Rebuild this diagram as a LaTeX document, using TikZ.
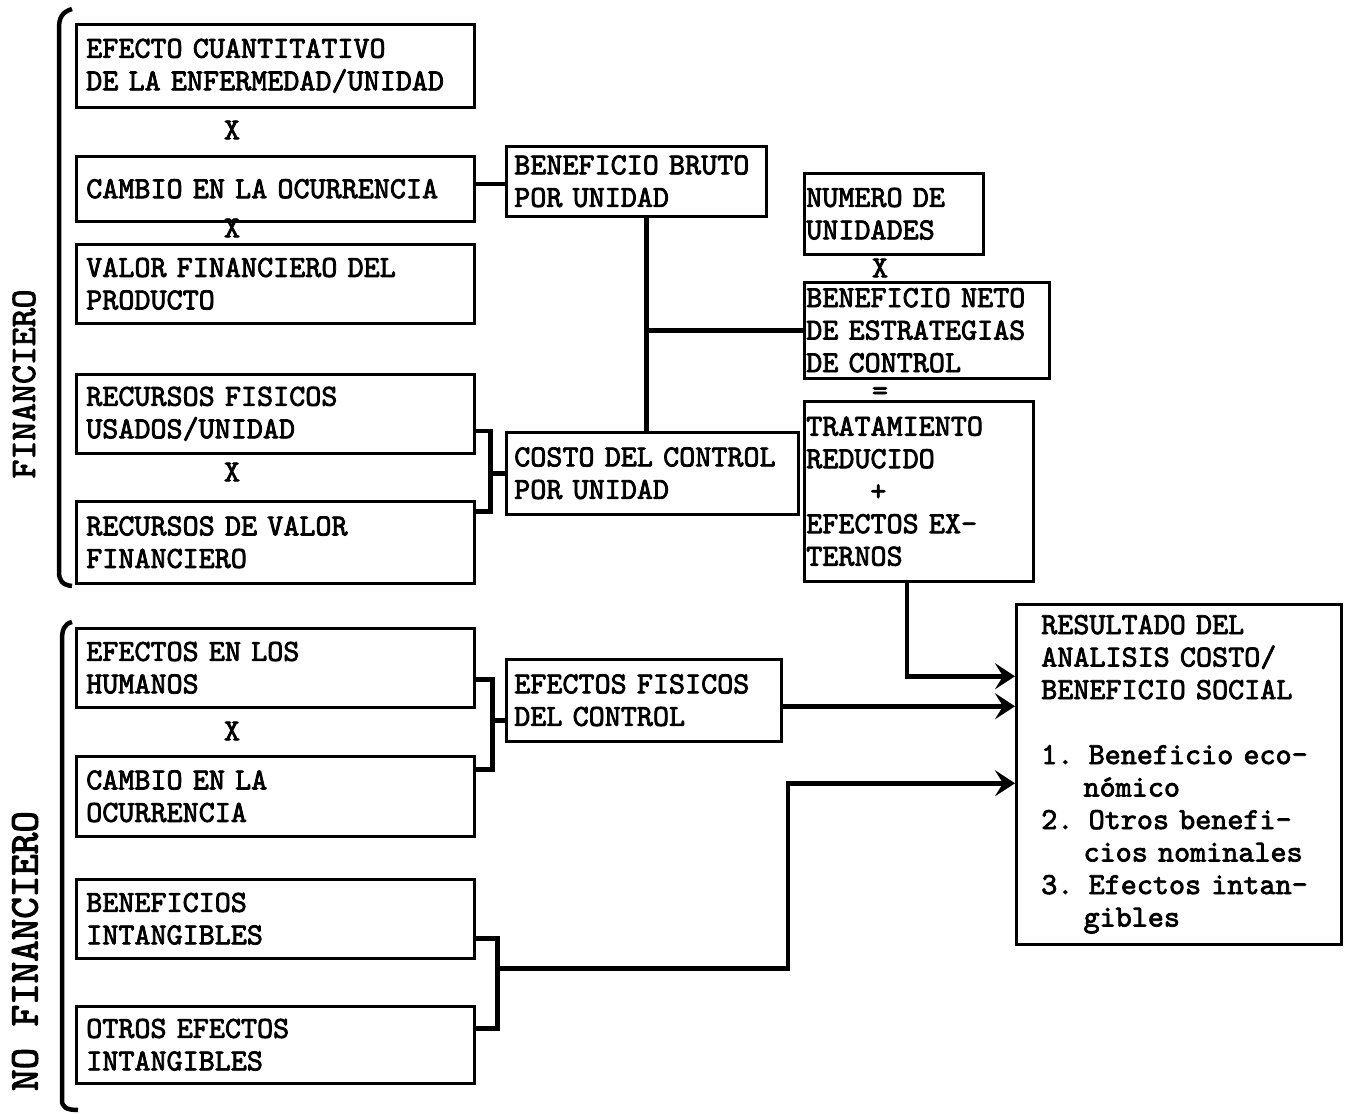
\documentclass[tikz,border=0pt]{standalone}
\usepackage{fontspec}
\newfontfamily\maquina{lmmono10-regular.otf}[FakeBold=2.5]
\usetikzlibrary{arrows.meta}

\begin{document}
\begin{tikzpicture}[x=1pt, y=-1pt,
                    line width=2.5pt,
                    font=\maquina\fontsize{30.6}{32.5}\selectfont,
                    ]
    \tikzstyle{caja}=[draw, anchor=north west, align=left, inner ysep=0pt, inner xsep=10pt, text width=378pt]
    \tikzstyle{cajam}=[caja, inner xsep=8pt]
    \tikzstyle{cajad}=[caja, inner xsep=2pt]
    \tikzstyle{signo}=[inner sep=0pt]
    \tikzstyle{llave}=[draw, line width=4.5pt]
    \tikzstyle{conector}=[draw, line width=4.5pt]
    \tikzstyle{flecha}=[conector, -{Stealth[length=20pt,width=26pt,inset=8pt]}]
    \tikzstyle{lado}=[rotate=90, inner sep=0pt, font=\maquina\fontsize{36}{36}\selectfont]

    \useasboundingbox (0,0) rectangle (1347,1114);

    % financiero
    \node[caja, minimum height=83pt] (efecto) at (75,23) {EFECTO CUANTITATIVO\\DE LA ENFERMEDAD/UNIDAD};
    \node[signo] (x1) at (232,130) {X};
    \node[caja, minimum height=65pt] (cambio) at (75,155) {CAMBIO EN LA OCURRENCIA};
    \node[signo] (x2) at (232,228) {X};
    \node[caja, minimum height=79pt] (valor) at (75,243) {VALOR FINANCIERO DEL\\PRODUCTO};
    \node[caja, minimum height=79pt] (recursos) at (75,373) {RECURSOS FISICOS\\USADOS/UNIDAD};
    \node[signo] (x3) at (232,472) {X};
    \node[caja, minimum height=82pt] (recvalor) at (75,500) {RECURSOS DE VALOR\\FINANCIERO};

    % no financiero
    \node[caja, minimum height=79pt] (humanos) at (75,627) {EFECTOS EN LOS\\HUMANOS};
    \node[signo] (x4) at (232,731) {X};
    \node[caja, minimum height=80pt] (cambiob) at (75,755) {CAMBIO EN LA\\OCURRENCIA};
    \node[caja, minimum height=79pt] (intang) at (75,878) {BENEFICIOS\\INTANGIBLES};
    \node[caja, minimum height=77pt] (otros) at (75,1005) {OTROS EFECTOS\\INTANGIBLES};

    \node[cajam, text width=244pt, minimum height=70pt] (bruto) at (505,145) {BENEFICIO BRUTO\\POR UNIDAD};
    \node[cajam, text width=276pt, minimum height=82pt] (costo) at (505,431) {COSTO DEL CONTROL\\POR UNIDAD};
    \node[cajam, text width=259pt, minimum height=82pt] (efis) at (505,658) {EFECTOS FISICOS\\DEL CONTROL};

    \node[cajad, text width=175pt, minimum height=81pt] (numero) at (803,172) {NUMERO DE\\UNIDADES};
    \node[signo] (x5) at (880,268) {X};
    \node[cajad, text width=241pt, minimum height=96pt] (neto) at (803,281) {BENEFICIO NETO\\DE ESTRATEGIAS\\DE CONTROL};
    \node[signo, text height=10pt, text depth=0pt] (igual) at (880,395) {=};
    \node[cajad, text width=225pt, minimum height=180pt] (trat) at (803,400) {TRATAMIENTO\\REDUCIDO\\\hspace*{64pt}+\\EFECTOS EX-\\TERNOS};

    \node[caja, inner xsep=25pt, text width=275pt, minimum height=340pt] (resultado) at (1015,603)
        {RESULTADO DEL\\ANALISIS COSTO/\\BENEFICIO SOCIAL\\[32.5pt]1. Beneficio eco-\\\phantom{1.\ }nómico\\2. Otros benefi-\\\phantom{2.\ }cios nominales\\3. Efectos intan-\\\phantom{3.\ }gibles};

    \node[lado] (fin) at (24,384) {FINANCIERO};
    \node[lado, font=\maquina\fontsize{41}{41}\selectfont] (nofin) at (25,951) {NO FINANCIERO};

    \draw[llave] (72,9) .. controls (62,12) and (59,18) .. (59,28) -- (59,572) .. controls (59,580) and (62,585) .. (72,586);
    \draw[llave] (72,622) .. controls (64,624) and (62,630) .. (62,640) -- (62,1100) .. controls (62,1107) and (66,1110) .. (78,1110);

    \draw[conector] ([yshift=5pt]cambio.east) -- ([yshift=5pt]cambio.east -| bruto.west);
    \coordinate (eje) at ([xshift=10pt]bruto.south);
    \draw[conector] (eje) -- (eje |- costo.north);
    \draw[conector] (eje |- neto.west) -- (neto.west);

    \coordinate (ll1) at ([xshift=15pt,yshift=-17pt]recursos.east);
    \draw[llave] ([yshift=-17pt]recursos.east) -- (ll1) |- ([yshift=31pt]recvalor.east);
    \draw[conector] (costo.west) -- (costo.west -| ll1);

    \coordinate (ll2) at ([xshift=17pt,yshift=-11.5pt]humanos.east);
    \coordinate (e1) at ([yshift=-20pt]efis.west);
    \draw[llave] ([yshift=-11.5pt]humanos.east) -- (ll2) |- ([yshift=27pt]cambiob.east);
    \draw[conector] (e1) -- (e1 -| ll2);

    \coordinate (r1) at ([yshift=98pt]resultado.west);
    \coordinate (r2) at ([yshift=68pt]resultado.west);
    \coordinate (r3) at ([yshift=-9pt]resultado.west);
    \draw[flecha] ([xshift=-12pt]trat.south) |- (r1);
    \draw[flecha] ([yshift=-6pt]efis.east) -- (r2);

    \coordinate (ll3) at ([xshift=22pt,yshift=-19.5pt]intang.east);
    \coordinate (m3) at ([xshift=22pt,yshift=-49.5pt]intang.east);
    \draw[llave] ([yshift=-19.5pt]intang.east) -- (ll3) |- ([yshift=16.5pt]otros.east);
    \draw[flecha] (m3) -| ([xshift=-227pt]r3) -- (r3);
\end{tikzpicture}
\end{document}
